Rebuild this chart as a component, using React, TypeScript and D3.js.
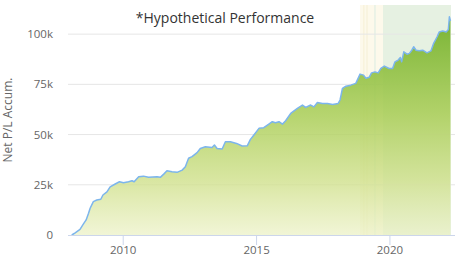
import React from "react";
import * as d3 from "d3";

const years: number[] = [
  2008.07, 2008.2, 2008.38, 2008.51, 2008.61, 2008.7, 2008.76, 2008.88, 2009.01, 2009.16,
  2009.24, 2009.39, 2009.51, 2009.7, 2009.86, 2010.01, 2010.2, 2010.33, 2010.41, 2010.58,
  2010.76, 2010.95, 2011.27, 2011.39, 2011.52, 2011.64, 2011.83, 2012.02, 2012.21, 2012.33,
  2012.45, 2012.58, 2012.77, 2012.89, 2013.08, 2013.33, 2013.42, 2013.52, 2013.71, 2013.83,
  2014.02, 2014.25, 2014.46, 2014.65, 2014.77, 2014.9, 2015.09, 2015.27, 2015.46, 2015.59,
  2015.71, 2015.84, 2015.97, 2016.09, 2016.28, 2016.53, 2016.72, 2016.84, 2017.03, 2017.15,
  2017.28, 2017.47, 2017.66, 2017.85, 2018.06, 2018.13, 2018.22, 2018.35, 2018.53, 2018.72,
  2018.88, 2019.01, 2019.1, 2019.22, 2019.31, 2019.44, 2019.56, 2019.66, 2019.79, 2019.97,
  2020.1, 2020.19, 2020.31, 2020.39, 2020.44, 2020.52, 2020.64, 2020.73, 2020.82, 2020.89,
  2020.98, 2021.1, 2021.23, 2021.39, 2021.54, 2021.64, 2021.77, 2021.85, 2021.98, 2022.11,
  2022.19, 2022.23, 2022.27,
];

const pnl: number[] = [
  0, 1100, 2800, 5500, 7500, 10800, 13300, 16600, 17400, 17800,
  19900, 21500, 24000, 25400, 26500, 26000, 26500, 27000, 26500, 29000,
  29300, 28700, 29000, 28700, 30300, 32000, 31500, 31200, 32300, 34000,
  38200, 39000, 41000, 43100, 43900, 43600, 44800, 43100, 42800, 46400,
  46400, 45600, 44300, 44400, 47600, 49800, 53100, 53400, 55200, 56400,
  55900, 56400, 55200, 56900, 60500, 63000, 64700, 63500, 64700, 63800,
  66000, 65500, 65500, 65000, 65500, 67200, 73000, 74100, 74600, 75500,
  80100, 79600, 78000, 78500, 80700, 81200, 80700, 82900, 84100, 82900,
  82900, 86200, 87100, 88400, 86200, 91200, 90000, 90400, 92000, 93700,
  92000, 91700, 92000, 90700, 91700, 95400, 98700, 101100, 101600, 101100,
  102300, 108600, 106600,
];

const yTicks: number[] = [0, 25000, 50000, 75000, 100000];
const xTicks: number[] = [2010, 2015, 2020];

const bandStarts: number[] = [2018.88, 2019.74];
const bandEnds: number[] = [2019.74, 2022.29];
const stripeYears: number[] = [2019.02, 2019.14, 2019.44];

const title = "*Hypothetical Performance";
const yTitle = "Net P/L Accum.";

const W = 455;
const H = 258;
const left = 68;
const right = 455;
const top = 5;
const bottom = 235;
const FONT = "'Open Sans', 'Noto Sans', sans-serif";
const bandColors = ["rgba(250, 240, 205, 0.4)", "rgba(200, 225, 190, 0.45)"];

export default function App() {
  const x = d3.scaleLinear().domain([2007.93, 2022.44]).range([left, right]);
  const y = d3.scaleLinear().domain([0, 114500]).range([bottom, top]);
  const pts = years.map((yr, i) => [yr, pnl[i]] as [number, number]);
  const area = d3
    .area<[number, number]>()
    .x((d) => x(d[0]))
    .y0(y(0))
    .y1((d) => y(d[1]))(pts) as string;
  const line = d3
    .line<[number, number]>()
    .x((d) => x(d[0]))
    .y((d) => y(d[1]))(pts) as string;
  const fmt = (v: number) => (v === 0 ? "0" : `${v / 1000}k`);

  return (
    <svg
      width={W}
      height={H}
      style={{ position: "absolute", left: 0, top: 0, background: "#fff" }}
      fontFamily={FONT}
    >
      <defs>
        <linearGradient id="ag" x1="0" y1="0" x2="0" y2="1">
          <stop offset="0" stopColor="#72b02a" stopOpacity={0.95} />
          <stop offset="0.45" stopColor="#a9cd55" stopOpacity={0.85} />
          <stop offset="0.75" stopColor="#cfe08a" stopOpacity={0.8} />
          <stop offset="1" stopColor="#ebf1c4" stopOpacity={0.7} />
        </linearGradient>
      </defs>
      {bandStarts.map((s, i) => (
        <rect
          key={`b${i}`}
          x={x(s)}
          y={top}
          width={x(bandEnds[i]) - x(s)}
          height={bottom - top}
          fill={bandColors[i]}
        />
      ))}
      {stripeYears.map((s, i) => (
        <line
          key={`s${i}`}
          x1={x(s)}
          x2={x(s)}
          y1={top}
          y2={bottom}
          stroke={i === 2 ? "rgba(190,225,220,0.35)" : "rgba(240,232,195,0.35)"}
          strokeWidth={1.5}
        />
      ))}
      {yTicks
        .filter((t) => t > 0)
        .map((t) => (
          <line key={`g${t}`} x1={left} x2={right} y1={y(t)} y2={y(t)} stroke="#e6e6e6" />
        ))}
      <path d={area} fill="url(#ag)" />
      <path d={line} fill="none" stroke="#7cb5ec" strokeWidth={1.5} strokeLinejoin="round" />
      <line x1={left} x2={right} y1={bottom + 0.5} y2={bottom + 0.5} stroke="#ccd6eb" />
      {xTicks.map((t) => (
        <g key={`x${t}`}>
          <line x1={x(t)} x2={x(t)} y1={bottom} y2={bottom + 10} stroke="#ccd6eb" />
          <text x={x(t)} y={254} textAnchor="middle" fontSize={11.5} fill="#666">
            {t}
          </text>
        </g>
      ))}
      {yTicks.map((t) => (
        <text key={`y${t}`} x={53} y={y(t) + 4} textAnchor="end" fontSize={11.5} fill="#666">
          {fmt(t)}
        </text>
      ))}
      <text
        transform={`translate(12, 120) rotate(-90)`}
        textAnchor="middle"
        fontSize={12}
        fill="#666"
      >
        {yTitle}
      </text>
      <text x={225} y={22.5} textAnchor="middle" fontSize={14} fill="#333">
        {title}
      </text>
    </svg>
  );
}
